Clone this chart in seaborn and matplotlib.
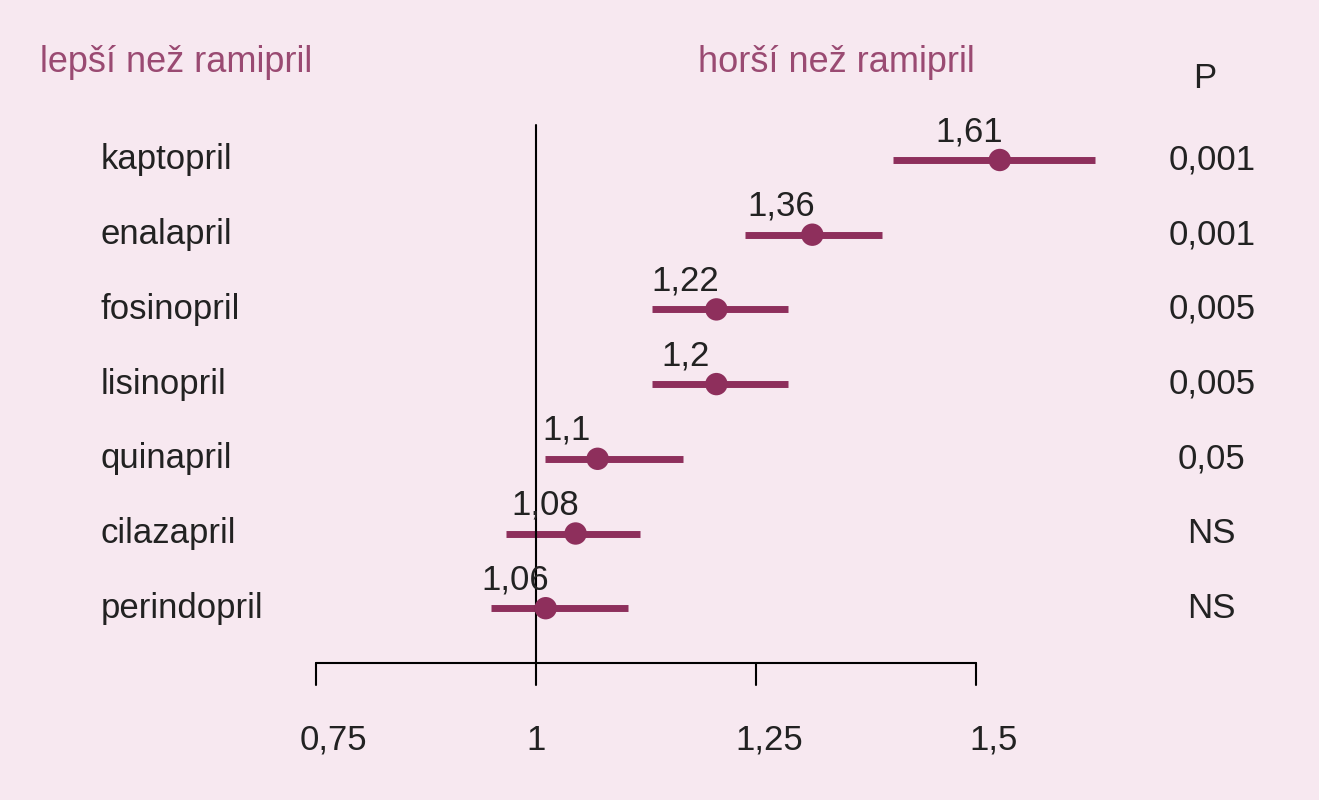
import matplotlib
matplotlib.use("Agg")
import matplotlib.pyplot as plt
import seaborn as sns
import pandas as pd

drugs = ["kaptopril", "enalapril", "fosinopril", "lisinopril", "quinapril", "cilazapril", "perindopril"]
point = [1.527, 1.314, 1.205, 1.205, 1.070, 1.045, 1.011]
lo = [1.406, 1.238, 1.132, 1.132, 1.010, 0.966, 0.949]
hi = [1.635, 1.393, 1.286, 1.286, 1.167, 1.118, 1.105]
value_labels = ["1,61", "1,36", "1,22", "1,2", "1,1", "1,08", "1,06"]
p_values = ["0,001", "0,001", "0,005", "0,005", "0,05", "NS", "NS"]
ticks = [0.75, 1.0, 1.25, 1.5]
tick_labels = ["0,75", "1", "1,25", "1,5"]

bg = "#f7e8f0"
mark = "#8e2f5c"
head = "#9a4a72"

sns.set_style("white")
plt.rcParams["font.family"] = ["Liberation Sans", "DejaVu Sans"]

fig = plt.figure(figsize=(13.19, 8), dpi=100, facecolor=bg)
ax = fig.add_axes([0, 0, 1, 1])
x0 = 0.75 - 316 / 880

df = pd.DataFrame({"drug": drugs, "point": point, "lo": lo, "hi": hi})
df["y"] = [160 + i * 74.7 for i in range(len(drugs))]

ax.hlines(df["y"], df["lo"], df["hi"], color=mark, lw=5, zorder=2)
sns.scatterplot(data=df, x="point", y="y", ax=ax, color=mark, s=260, edgecolor="none", zorder=3)
ax.set_facecolor(bg)
ax.set_xlim(x0, x0 + 1319 / 880)
ax.set_ylim(800, 0)
ax.axis("off")

fs = 25
for i, r in df.iterrows():
    ax.text(0.505, r["y"], r["drug"], fontsize=fs, va="center", ha="left", color="#222222")
    ax.text(r["point"] - 0.035, r["y"] - 12, value_labels[i], fontsize=fs, va="bottom", ha="center", color="#222222")
    ax.text(1.768, r["y"], p_values[i], fontsize=fs, va="center", ha="center", color="#222222")

ax.plot([1, 1], [125, 663], color="black", lw=1.5)
ax.plot([0.75, 1.5], [663, 663], color="black", lw=1.5)
tick_shift = [0.02, 0.0, 0.015, 0.02]
for t, lab, s in zip(ticks, tick_labels, tick_shift):
    ax.plot([t, t], [663, 685], color="black", lw=1.5)
    ax.text(t + s, 740, lab, fontsize=fs, ha="center", va="center", color="#222222")

ax.text(0.436, 62, "lepší než ramipril", fontsize=26, color=head, va="center", ha="left")
ax.text(1.184, 62, "horší než ramipril", fontsize=26, color=head, va="center", ha="left")
ax.text(1.760, 78, "P", fontsize=fs, color="#222222", va="center", ha="center")

fig.savefig("out.png", dpi=100, facecolor=bg)
